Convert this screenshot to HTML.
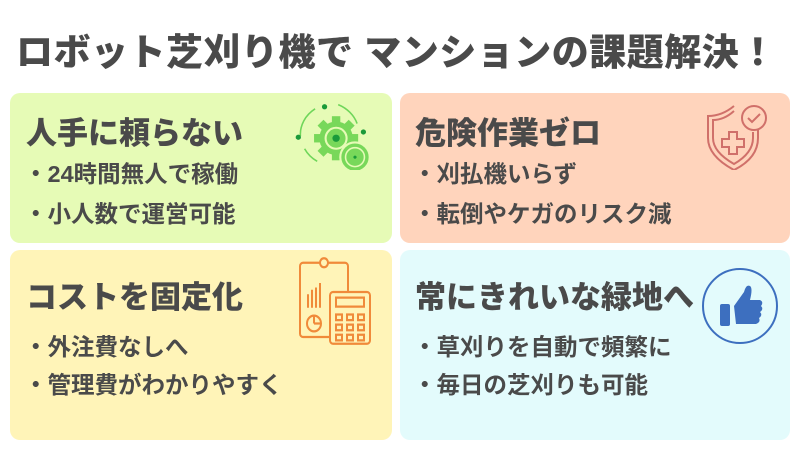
<!DOCTYPE html>
<html><head><meta charset="utf-8"><style>
body{margin:0;width:800px;height:452px;background:#fff;position:relative;overflow:hidden;font-family:"Liberation Sans","Noto Sans CJK JP",sans-serif;color:#4a4a4a;font-weight:bold}
.t{position:absolute;left:16px;top:22px;font-size:37px;font-weight:900;white-space:nowrap;letter-spacing:0.5px}
.p{position:absolute;border-radius:10px}
.h{position:absolute;font-size:31px;font-weight:900;white-space:nowrap}
.b{position:absolute;font-size:23.5px;white-space:nowrap}
svg{position:absolute}
</style></head><body>
<div class="t">ロボット芝刈り機で マンションの課題解決！</div>
<div class="p" style="left:10px;top:93px;width:382px;height:150px;background:#e6fbb6"></div>
<div class="p" style="left:400px;top:93px;width:390px;height:150px;background:#ffd4bc"></div>
<div class="p" style="left:10px;top:250px;width:382px;height:190px;background:#fff4b8"></div>
<div class="p" style="left:400px;top:250px;width:390px;height:190px;background:#e3fbfc"></div>

<div class="h" style="left:26px;top:108px">人手に頼らない</div>
<div class="b" style="left:24px;top:155px">・24時間無人で稼働</div>
<div class="b" style="left:24px;top:195px">・小人数で運営可能</div>

<div class="h" style="left:415px;top:108px">危険作業ゼロ</div>
<div class="b" style="left:413px;top:155px">・刈払機いらず</div>
<div class="b" style="left:413px;top:195px">・転倒やケガのリスク減</div>

<div class="h" style="left:26px;top:272px">コストを固定化</div>
<div class="b" style="left:24px;top:328px">・外注費なしへ</div>
<div class="b" style="left:24px;top:366px">・管理費がわかりやすく</div>

<div class="h" style="left:415px;top:272px">常にきれいな緑地へ</div>
<div class="b" style="left:413px;top:328px">・草刈りを自動で頻繁に</div>
<div class="b" style="left:413px;top:366px">・毎日の芝刈りも可能</div>

<svg style="left:292px;top:96px" width="84" height="74" viewBox="0 0 80 70">
<g fill="none" stroke="#6fd65a" stroke-width="1.5">
<path d="M22 12 A34 30 0 0 0 8 38"/><path d="M44 8 A34 30 0 0 1 62 26"/><path d="M12 50 A34 30 0 0 0 24 62"/>
</g>
<circle cx="31" cy="10" r="2.5" fill="#1a9a3a"/><circle cx="68" cy="34" r="2.5" fill="#1a9a3a"/><circle cx="6" cy="39" r="2.5" fill="#1a9a3a"/>
<g fill="#78d85a">
<circle cx="42" cy="40" r="16"/>
<rect x="38" y="19" width="8" height="42"/><rect x="21" y="36" width="42" height="8"/>
<rect x="38" y="19" width="8" height="42" transform="rotate(45 42 40)"/><rect x="38" y="19" width="8" height="42" transform="rotate(-45 42 40)"/>
</g>
<circle cx="42" cy="40" r="10" fill="none" stroke="#e6fbb6" stroke-width="2"/>
<circle cx="42" cy="40" r="3.5" fill="#1a9a3a"/>
<circle cx="60" cy="58" r="14" fill="#78d85a" stroke="#e6fbb6" stroke-width="2"/>
<circle cx="60" cy="58" r="9" fill="none" stroke="#e6fbb6" stroke-width="1.5"/>
<circle cx="60" cy="58" r="1.5" fill="#1a9a3a"/>
</svg>

<svg style="left:700px;top:100px" width="70" height="70" viewBox="0 0 70 70" fill="none" stroke="#d0706a" stroke-width="2">
<path d="M34 6 Q22 16 8 16 L8 38 Q8 56 34 70 Q58 58 58 38 L58 28"/>
<path d="M34 11 Q24 20 13 20 L13 38 Q13 52 34 64 Q53 53 53 38 L53 32"/>
<path d="M29 32h8v7h7v8h-7v7h-8v-7h-7v-8h7z"/>
<circle cx="54" cy="18" r="12" fill="#ffd4bc"/>
<path d="M48 18l4 4 8-8"/>
</svg>

<svg style="left:296px;top:256px" width="80" height="90" viewBox="0 0 80 80" preserveAspectRatio="none" fill="none" stroke="#f08a3a" stroke-width="2">
<rect x="4" y="6" width="48" height="66" rx="3"/>
<circle cx="28" cy="6" r="4" fill="#fff4b8"/>
<path d="M12 46v-12M16 46v-16M20 46v-18M24 46v-22"/>
<circle cx="18" cy="60" r="7"/><path d="M18 60v-7M18 60h7"/>
<rect x="34" y="32" width="40" height="46" rx="3" fill="#fff4b8"/>
<rect x="40" y="37" width="28" height="8"/>
<g><rect x="40" y="52" width="6" height="5"/><rect x="51" y="52" width="6" height="5"/><rect x="62" y="52" width="6" height="5"/>
<rect x="40" y="61" width="6" height="5"/><rect x="51" y="61" width="6" height="5"/><rect x="62" y="61" width="6" height="5"/>
<rect x="40" y="70" width="6" height="5"/><rect x="51" y="70" width="6" height="5"/><rect x="62" y="70" width="6" height="5"/></g>
</svg>

<svg style="left:700px;top:266px" width="80" height="80" viewBox="0 0 80 80">
<circle cx="40" cy="40" r="37" fill="none" stroke="#3d6fbf" stroke-width="2"/>
<rect x="20" y="38" width="10" height="22" rx="2" fill="#3d6fbf"/>
<path d="M34 40 L44 26 Q46 18 50 20 Q53 22 50 34 L60 34 Q64 36 61 40 Q64 43 60 46 Q63 49 59 52 Q61 56 56 58 L36 58 Z" fill="#3d6fbf"/>
</svg>
</body></html>
